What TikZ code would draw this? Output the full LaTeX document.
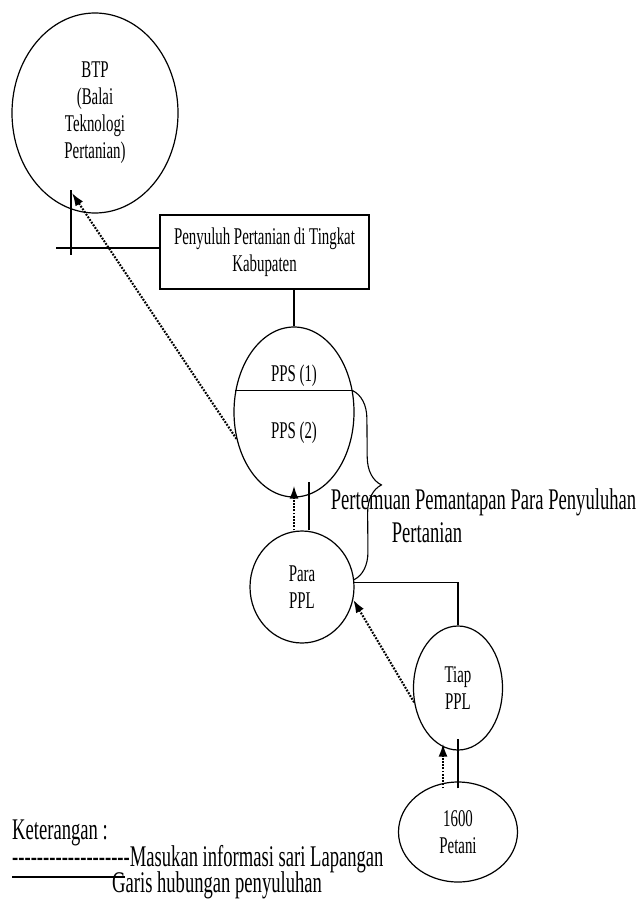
\documentclass[tikz,border=0pt]{standalone}
\usepackage{fontspec}
\setmainfont{Liberation Serif}[FakeStretch=0.62,Ligatures=TeXOff]
\usetikzlibrary{shapes,arrows.meta,positioning,decorations.pathreplacing}

\begin{document}
\begin{tikzpicture}[
    x=1pt, y=-1pt,
    every node/.style={
        inner sep=0pt,
        align=center,
        font=\fontsize{24}{27}\selectfont
    },
    org/.style={ellipse, draw, line width=1.2pt},
    info/.style={line width=2.1pt, dash pattern=on 1.8pt off 1.4pt,
        -{Latex[length=13pt,width=9pt]}},
    link/.style={line width=1.1pt},
    big/.style={font=\fontsize{30}{38}\selectfont}
]
\useasboundingbox (0,0) rectangle (640,907);

\node[org, minimum width=166pt, minimum height=200pt] (btp) at (95,113)
    {BTP\\(Balai\\Teknologi\\Pertanian)};
\node[draw, line width=1.4pt, minimum width=209pt, minimum height=74pt] (kab)
    at (264.5,252) {Penyuluh Pertanian di Tingkat\\Kabupaten};
\node[org, minimum width=120pt, minimum height=170pt] (pps) at (294,412) {};
\node (pps1) at (294,376) {PPS (1)};
\node (pps2) at (294,433) {PPS (2)};
\node[org, minimum width=104pt, minimum height=112pt] (para) at (302,587) {Para\\PPL};
\node[org, minimum width=89pt, minimum height=124pt] (tiap) at (458,688) {Tiap\\PPL};
\node[org, minimum width=119pt, minimum height=100pt] (petani) at (458,832) {1600\\Petani};

\node[big, anchor=base] (pert1) at (483.5,509) {Pertemuan Pemantapan Para Penyuluhan};
\node[big, anchor=base] (pert2) at (427,542) {Pertanian};

% keterangan
\node[big, anchor=base west] (ket) at (12,839) {Keterangan :};
\node[big, anchor=base west] (masuk) at (12,866)
    {-------------------Masukan informasi sari Lapangan};
\node[big, anchor=base west] (garis) at (112,892) {Garis hubungan penyuluhan};
\coordinate (gl) at (12,877);
\draw[link] (gl) -- ([xshift=13pt]gl -| garis.west);

% garis hubungan
\coordinate (kabl) at (56,248);
\draw[link] (kabl) -- (kabl -| kab.west);
\coordinate (btpl) at (71,190);
\draw[link] (btpl) -- ++(0,65);
\draw[link] (pps.north) -- (pps.north |- kab.south);
\draw[link] (pps.160) -- (pps.20);
\draw[link, decorate, decoration={brace, amplitude=28pt}] (pps.20) -- (para.8);
\draw[link] (para.5) -- (para.5 -| tiap.north) -- (tiap.north);
\draw[link] ([xshift=7pt]para.north) -- ++(0,-48);
\draw[link] ([shift={(0,7)}]petani.north) -- ([shift={(0,-12)}]tiap.south);

% masukan informasi
\coordinate (btptip) at (72,193);
\draw[info] (pps.205) -- (btptip);
\draw[info] ([xshift=-8pt]para.north) -- ([shift={(0,-12)}]pps.south);
\draw[info] (tiap.198) -- (para.346);
\draw[info] ([shift={(-15,7)}]petani.north) -- ([shift={(-15,-7)}]tiap.south);
\end{tikzpicture}
\end{document}
